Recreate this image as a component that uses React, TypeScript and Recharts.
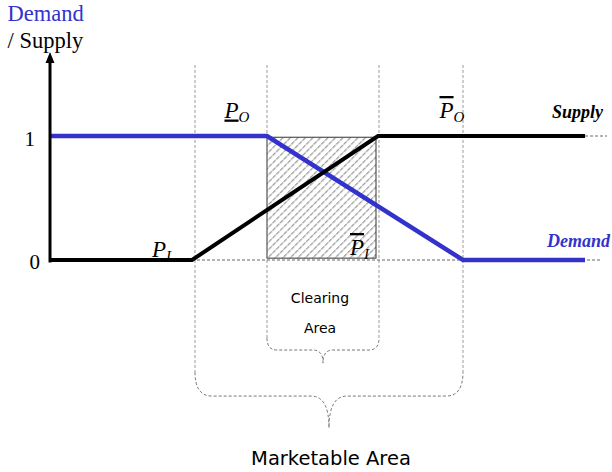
import React from 'react';
import { ComposedChart, Line, XAxis, YAxis, ReferenceLine, ReferenceArea, ReferenceDot } from 'recharts';

// price axis (arbitrary units), level axis 0..1
const supplyX = [0, 142, 328, 535];
const supplyY = [0, 0, 1, 1];
const demandX = [0, 217, 413, 535];
const demandY = [1, 1, 0, 0];

// P_I, P_O (lower), P_I (upper), P_O (upper)
const boundaryX = [145, 217, 329, 413];
const clearingX = [217, 326];
const levelTicks = [0, 1];

const supplyData = supplyX.map((x, i) => ({ x, y: supplyY[i] }));
const demandData = demandX.map((x, i) => ({ x, y: demandY[i] }));

const BLUE = '#3333cc';
const SERIF = '"Liberation Serif", "Times New Roman", serif';
const SANS = '"DejaVu Sans", Verdana, sans-serif';

const axisShape = (p: any) => (
  <g>
    <line x1={p.x1} y1={p.y1} x2={p.x2} y2={p.y2 + 9} stroke="#000" strokeWidth={3} />
    <polygon points={`${p.x2 - 4.5},${p.y2 + 11} ${p.x2 + 4.5},${p.y2 + 11} ${p.x2},${p.y2}`} fill="#000" />
  </g>
);

const braceShape = (frac: number, rx: number, w: number) => (p: any) => {
  const xl = Math.min(p.x1, p.x2);
  const xr = Math.max(p.x1, p.x2);
  const yc = p.y1;
  const yt = p.y2;
  const yh = yc + (yt - yc) * frac;
  const xm = (xl + xr) / 2;
  const d = `M${xl},${yc} Q${xl},${yh} ${xl + rx},${yh} L${xm - w},${yh} Q${xm},${yh} ${xm},${yt} Q${xm},${yh} ${xm + w},${yh} L${xr - rx},${yh} Q${xr},${yh} ${xr},${yc}`;
  return <path d={d} fill="none" stroke="#777" strokeWidth={1} strokeDasharray="3 2" />;
};

const hatchShape = (p: any) => (
  <g>
    <defs>
      <pattern id="hatch" patternUnits="userSpaceOnUse" width={5.3} height={5.3} patternTransform="rotate(45)">
        <line x1={0} y1={0} x2={0} y2={5.3} stroke="#9a9a9a" strokeWidth={2.5} strokeDasharray="2.2 1" />
      </pattern>
    </defs>
    <rect x={p.x} y={p.y} width={p.width} height={p.height} fill="url(#hatch)" stroke="#333" strokeWidth={1} />
  </g>
);

const note = (content: React.ReactNode, attrs: any) => (p: any) => (
  <text x={p.cx} y={p.cy} {...attrs}>{content}</text>
);

const pLabel = (sub: string, deco: string) =>
  note(
    <>
      <tspan style={{ textDecoration: deco }}>P</tspan>
      <tspan fontSize={15} dy={4}>{sub}</tspan>
    </>,
    { fontFamily: SERIF, fontStyle: 'italic', fontSize: 23, fill: '#000' }
  );

export default function App() {
  return (
    <div style={{ position: 'absolute', left: 0, top: 0, background: '#fff' }}>
      <ComposedChart width={612} height={472} margin={{ top: 49.2, right: 2, bottom: 13.6, left: 50 }}>
        <XAxis type="number" dataKey="x" domain={[0, 560]} hide allowDataOverflow />
        <YAxis type="number" dataKey="y" domain={[-1.6, 1.7]} ticks={levelTicks} hide allowDataOverflow />

        <ReferenceArea x1={clearingX[0]} x2={clearingX[1]} y1={0.015} y2={0.99} shape={hatchShape} />

        {boundaryX.map((x) => (
          <ReferenceLine key={x} segment={[{ x, y: 1.573 }, { x, y: x === 217 || x === 329 ? -0.629 : -0.903 }]}
            stroke="#999" strokeWidth={1} strokeDasharray="3 2" />
        ))}
        <ReferenceLine segment={[{ x: boundaryX[0], y: -0.903 }, { x: boundaryX[3], y: -1.355 }]} shape={braceShape(0.43, 17, 18)} />
        <ReferenceLine segment={[{ x: boundaryX[1], y: -0.629 }, { x: boundaryX[2], y: -0.831 }]} shape={braceShape(0.48, 10, 10)} />

        <ReferenceLine segment={[{ x: 142, y: 0 }, { x: 552, y: 0 }]} stroke="#666" strokeWidth={1} strokeDasharray="3 2" />
        <ReferenceLine segment={[{ x: 535, y: 1 }, { x: 557, y: 1 }]} stroke="#666" strokeWidth={1} strokeDasharray="3 2" />

        <Line data={demandData} dataKey="y" type="linear" stroke={BLUE} strokeWidth={4.5} dot={false} isAnimationActive={false} />
        <Line data={supplyData} dataKey="y" type="linear" stroke="#000" strokeWidth={4} dot={false} isAnimationActive={false} />

        <ReferenceLine segment={[{ x: 0, y: -0.02 }, { x: 0, y: 1.677 }]} shape={axisShape} ifOverflow="visible" />

        <ReferenceDot x={-25.5} y={0.923} r={0} ifOverflow="visible" shape={note(String(levelTicks[1]), { fontFamily: SERIF, fontSize: 21, fill: '#000' })} />
        <ReferenceDot x={-20.5} y={-0.073} r={0} ifOverflow="visible" shape={note(String(levelTicks[0]), { fontFamily: SERIF, fontSize: 21, fill: '#000' })} />
        <ReferenceDot x={-42.5} y={1.927} r={0} ifOverflow="visible" shape={note('Demand', { fontFamily: SERIF, fontSize: 22.5, fill: BLUE })} />
        <ReferenceDot x={-42.5} y={1.71} r={0} ifOverflow="visible" shape={note('/ Supply', { fontFamily: SERIF, fontSize: 22.5, fill: '#000' })} />

        <ReferenceDot x={174.5} y={1.149} r={0} ifOverflow="visible" shape={pLabel('O', 'underline')} />
        <ReferenceDot x={389.5} y={1.145} r={0} ifOverflow="visible" shape={pLabel('O', 'overline')} />
        <ReferenceDot x={102} y={0.024} r={0} ifOverflow="visible" shape={pLabel('I', 'none')} />
        <ReferenceDot x={300} y={0.04} r={0} ifOverflow="visible" shape={pLabel('I', 'overline')} />

        <ReferenceDot x={502} y={1.145} r={0} ifOverflow="visible" shape={note('Supply', { fontFamily: SERIF, fontSize: 18, fontWeight: 'bold', fontStyle: 'italic', fill: '#000' })} />
        <ReferenceDot x={497} y={0.101} r={0} ifOverflow="visible" shape={note('Demand', { fontFamily: SERIF, fontSize: 18, fontWeight: 'bold', fontStyle: 'italic', fill: BLUE })} />

        <ReferenceDot x={270} y={-0.347} r={0} ifOverflow="visible" shape={note('Clearing', { fontFamily: SANS, fontSize: 14, textAnchor: 'middle', fill: '#000' })} />
        <ReferenceDot x={270} y={-0.589} r={0} ifOverflow="visible" shape={note('Area', { fontFamily: SANS, fontSize: 14, textAnchor: 'middle', fill: '#000' })} />
        <ReferenceDot x={281} y={-1.653} r={0} ifOverflow="visible" shape={note('Marketable Area', { fontFamily: SANS, fontSize: 19.5, textAnchor: 'middle', fill: '#000' })} />
      </ComposedChart>
    </div>
  );
}
